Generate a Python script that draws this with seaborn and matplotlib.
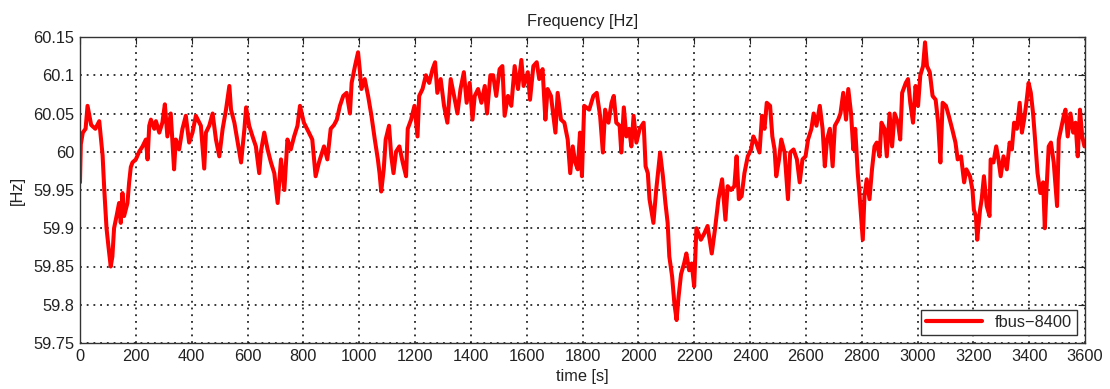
import matplotlib
matplotlib.use("Agg")
import matplotlib.pyplot as plt
import seaborn as sns
import pandas as pd

# ---- data ----
time_s = [0, 3, 10, 20, 27, 40, 55, 69, 81, 87, 95, 102, 110, 116, 122, 131, 140, 146, 152, 158,
          170, 176, 182, 188, 200, 212, 224, 236, 242, 248, 254, 266, 272, 284, 295, 304, 313, 325,
          337, 343, 355, 367, 379, 391, 403, 415, 433, 445, 451, 463, 475, 487, 499, 511, 523, 535,
          541, 553, 565, 577, 589, 595, 606, 618, 630, 642, 648, 660, 672, 684, 696, 708, 720, 732,
          743, 755, 767, 779, 788, 802, 820, 832, 844, 856, 874, 886, 898, 910, 920, 931, 943, 955,
          967, 973, 985, 996, 1002, 1008, 1020, 1032, 1044, 1056, 1067, 1073, 1079, 1088, 1095,
          1107, 1115, 1123, 1132, 1144, 1156, 1168, 1174, 1186, 1198, 1209, 1215, 1227, 1239, 1251,
          1263, 1272, 1280, 1292, 1304, 1316, 1328, 1340, 1352, 1363, 1375, 1385, 1396, 1406, 1414,
          1426, 1438, 1450, 1458, 1470, 1480, 1491, 1503, 1513, 1521, 1533, 1545, 1557, 1569, 1581,
          1589, 1604, 1612, 1624, 1636, 1645, 1657, 1667, 1675, 1687, 1703, 1711, 1723, 1735, 1747,
          1756, 1765, 1774, 1783, 1791, 1798, 1806, 1824, 1839, 1851, 1863, 1873, 1881, 1893, 1904,
          1912, 1921, 1933, 1939, 1948, 1957, 1967, 1975, 1983, 1993, 2005, 2019, 2026, 2034, 2040,
          2050, 2054, 2064, 2078, 2088, 2097, 2105, 2111, 2121, 2129, 2137, 2144, 2153, 2164, 2172,
          2182, 2191, 2200, 2208, 2224, 2236, 2248, 2263, 2275, 2287, 2300, 2312, 2320, 2332, 2344,
          2352, 2360, 2370, 2380, 2392, 2404, 2412, 2422, 2434, 2443, 2452, 2460, 2472, 2480, 2488,
          2494, 2504, 2512, 2524, 2536, 2544, 2556, 2568, 2578, 2588, 2599, 2608, 2620, 2628, 2638,
          2650, 2660, 2668, 2676, 2686, 2696, 2704, 2716, 2724, 2734, 2744, 2752, 2762, 2770, 2777,
          2786, 2791, 2804, 2810, 2818, 2828, 2837, 2846, 2854, 2864, 2871, 2882, 2890, 2900, 2909,
          2918, 2930, 2938, 2945, 2958, 2966, 2974, 2984, 2993, 3002, 3010, 3020, 3027, 3034, 3044,
          3054, 3065, 3074, 3082, 3090, 3102, 3112, 3124, 3136, 3144, 3156, 3167, 3175, 3188, 3197,
          3202, 3209, 3214, 3224, 3230, 3238, 3248, 3258, 3262, 3272, 3282, 3290, 3298, 3308, 3320,
          3330, 3338, 3346, 3356, 3366, 3374, 3382, 3390, 3398, 3406, 3414, 3422, 3430, 3440, 3450,
          3456, 3462, 3470, 3478, 3488, 3500, 3506, 3514, 3524, 3530, 3538, 3548, 3558, 3566, 3574,
          3582, 3590, 3598]

freq_hz = [59.96, 60.01, 60.025, 60.03, 60.06, 60.035, 60.03, 60.04, 59.995, 59.95, 59.90, 59.876,
           59.85, 59.863, 59.90, 59.916, 59.933, 59.907, 59.946, 59.916, 59.933, 59.96, 59.98, 59.986,
           59.99, 60.0, 60.007, 60.016, 59.99, 60.034, 60.042, 60.03, 60.04, 60.025, 60.038, 60.062,
           60.02, 60.05, 59.977, 60.016, 60.003, 60.03, 60.047, 60.012, 60.025, 60.047, 60.034, 59.978,
           60.025, 60.034, 60.05, 60.016, 59.994, 60.03, 60.055, 60.086, 60.055, 60.038, 60.012, 59.986,
           60.03, 60.058, 60.034, 60.02, 60.007, 59.972, 60.0, 60.025, 60.003, 59.986, 59.972, 59.933,
           59.99, 59.95, 60.016, 60.003, 60.02, 60.034, 60.06, 60.038, 60.025, 60.016, 59.968, 59.986,
           60.007, 59.99, 60.03, 60.035, 60.042, 60.06, 60.073, 60.077, 60.05, 60.09, 60.112, 60.13,
           60.108, 60.082, 60.095, 60.073, 60.047, 60.016, 59.99, 59.972, 59.948, 59.977, 60.016,
           60.034, 59.994, 59.972, 60.0, 60.007, 59.986, 59.968, 60.03, 60.042, 60.06, 60.02, 60.073,
           60.082, 60.1, 60.09, 60.108, 60.117, 60.077, 60.095, 60.06, 60.038, 60.095, 60.073, 60.05,
           60.082, 60.104, 60.064, 60.09, 60.042, 60.073, 60.082, 60.064, 60.086, 60.05, 60.1, 60.1,
           60.073, 60.108, 60.112, 60.047, 60.073, 60.06, 60.112, 60.082, 60.12, 60.086, 60.104,
           60.068, 60.112, 60.117, 60.095, 60.108, 60.042, 60.082, 60.073, 60.025, 60.077, 60.042,
           60.038, 60.016, 59.972, 60.007, 59.986, 59.977, 60.025, 59.968, 60.06, 60.055, 60.073,
           60.077, 60.047, 59.999, 60.055, 60.038, 60.064, 60.073, 60.038, 60.034, 59.999, 60.058,
           60.02, 60.03, 60.007, 60.047, 60.012, 60.03, 60.038, 59.981, 59.972, 59.938, 59.916, 59.907,
           59.95, 59.999, 59.968, 59.933, 59.907, 59.863, 59.837, 59.802, 59.78, 59.81, 59.84, 59.854,
           59.867, 59.845, 59.854, 59.824, 59.9, 59.885, 59.893, 59.903, 59.867, 59.9, 59.938, 59.964,
           59.911, 59.955, 59.95, 59.955, 59.994, 59.938, 59.942, 59.972, 59.994, 60.003, 60.02,
           60.012, 59.999, 60.047, 60.03, 60.064, 60.06, 60.02, 60.003, 59.968, 59.99, 60.016, 59.999,
           59.938, 59.999, 60.003, 59.99, 59.96, 59.99, 59.994, 60.016, 60.03, 60.05, 60.034, 60.06,
           60.03, 59.981, 60.016, 60.03, 59.981, 60.034, 60.042, 60.05, 60.077, 60.042, 60.082, 60.05,
           60.003, 60.03, 59.972, 59.95, 59.885, 59.942, 59.964, 59.938, 59.977, 60.007, 60.012,
           59.994, 60.038, 60.03, 59.994, 60.05, 60.007, 60.05, 60.038, 60.016, 60.077, 60.09, 60.095,
           60.064, 60.038, 60.086, 60.06, 60.1, 60.112, 60.143, 60.112, 60.104, 60.073, 60.068, 60.038,
           59.986, 60.064, 60.06, 60.047, 60.03, 60.012, 59.99, 59.994, 59.96, 59.977, 59.968, 59.95,
           59.924, 59.916, 59.885, 59.924, 59.938, 59.968, 59.929, 59.916, 59.99, 59.986, 60.007,
           59.99, 59.968, 59.994, 59.977, 60.012, 60.003, 60.038, 60.03, 60.064, 60.025, 60.042,
           60.064, 60.09, 60.077, 60.05, 60.012, 59.972, 59.946, 59.96, 59.9, 59.95, 60.007, 60.012,
           59.986, 59.929, 60.016, 60.03, 60.047, 60.055, 60.02, 60.05, 60.025, 60.038, 59.994, 60.055,
           60.02, 60.007]

series_label = "fbus\u22128400"
x_ticks = list(range(0, 3601, 200))
y_ticks = [59.75, 59.8, 59.85, 59.9, 59.95, 60.0, 60.05, 60.1, 60.15]
y_tick_labels = ["59.75", "59.8", "59.85", "59.9", "59.95", "60", "60.05", "60.1", "60.15"]

df = pd.DataFrame({"time [s]": time_s, "[Hz]": freq_hz, "series": series_label})

sns.set_style("white")
plt.rcParams["font.family"] = ["Liberation Sans", "DejaVu Sans"]

fig = plt.figure(figsize=(11.1, 3.89), dpi=100)
ax = fig.add_axes([80 / 1110, 1 - 343 / 389, 1005 / 1110, 306 / 389])

sns.lineplot(data=df, x="time [s]", y="[Hz]", hue="series", palette=["#ff0000"],
             estimator=None, sort=False, linewidth=2.9, ax=ax)

ax.set_xlim(0, 3600)
ax.set_ylim(59.75, 60.15)
ax.set_xticks(x_ticks)
ax.set_yticks(y_ticks)
ax.set_yticklabels(y_tick_labels)
ax.tick_params(direction="in", length=5, width=0.8, top=True, right=True,
               labelsize=11.8, colors="#222222", pad=4)
ax.grid(True, color="black", linestyle=(0, (1.2, 3.2)), linewidth=1.1)
for s in ax.spines.values():
    s.set_visible(True)
    s.set_color("#333333")
    s.set_linewidth(1.0)

ax.set_title("Frequency [Hz]", fontsize=11.8, pad=8, color="#222222")
ax.set_xlabel("time [s]", fontsize=11.8, labelpad=4, color="#222222")
ax.set_ylabel("[Hz]", fontsize=11.8, labelpad=6, color="#222222")

leg = ax.legend(loc="lower right", fontsize=11.8, frameon=True, fancybox=False,
                edgecolor="#333333", framealpha=1, handlelength=3.4, borderpad=0.3,
                borderaxespad=0.5)
leg.get_frame().set_linewidth(1.0)
for h in leg.get_lines():
    h.set_linewidth(3.0)

fig.savefig("out.png", dpi=100, facecolor="white")
